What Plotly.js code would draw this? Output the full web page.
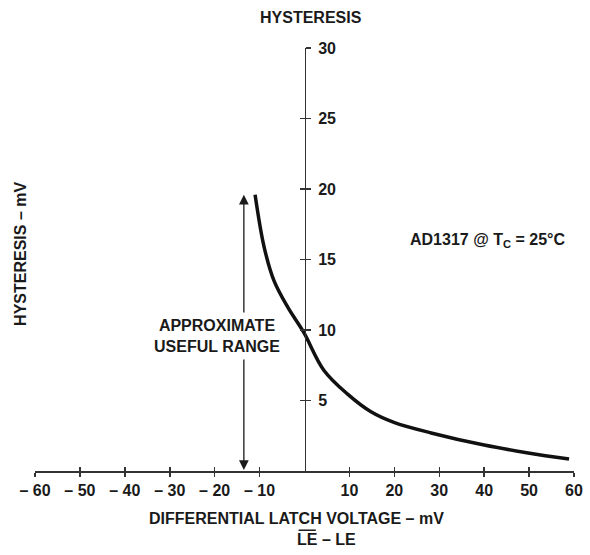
<!DOCTYPE html>
<html>
<head>
<meta charset="utf-8">
<script src="https://cdn.plot.ly/plotly-3.0.1.min.js"></script>
<style>
html,body{margin:0;padding:0;background:#ffffff;}
#chart{width:590px;height:555px;}
</style>
</head>
<body>
<div id="chart"></div>
<script>
// Curve: hysteresis (mV) vs differential latch voltage (mV)
const latchVoltage = [-11.0, -9.0, -6.8, -3.7, -0.2, 4.3, 9.6, 14.8, 19.9, 28.2, 40.0, 49.8, 58.9];
const hysteresis   = [19.6, 15.9, 13.5, 11.6, 9.85, 7.15, 5.45, 4.2, 3.45, 2.7, 1.84, 1.28, 0.85];

// Axis ticks
const xTickVals = [-60, -50, -40, -30, -20, -10, 10, 20, 30, 40, 50, 60];
const xTickText = xTickVals.map(v => v < 0 ? '\u2013 ' + Math.abs(v) : String(v));
const yTickVals = [5, 10, 15, 20, 25, 30];
const yTickText = yTickVals.map(String);
const xRange = [-60, 60];
const yRange = [0, 30];

// Useful range arrow
const usefulRangeX = -13.5;
const usefulRangeY = [0.07, 19.7];
const usefulRangeLabelPos = [-19.5, 9.57];

const FONT = 'Liberation Sans, Arial, Helvetica, sans-serif';
const INK = '#1a1a1a';
const AXIS = '#333333';

const traces = [
  {
    x: latchVoltage, y: hysteresis,
    type: 'scatter', mode: 'lines',
    line: {color: '#111111', width: 3.5, shape: 'spline', smoothing: 1},
    showlegend: false, hoverinfo: 'skip'
  },
  {
    x: [null], y: [null], xaxis: 'x2', yaxis: 'y2',
    type: 'scatter', mode: 'lines', showlegend: false, hoverinfo: 'skip'
  }
];

const tickFont = {family: FONT, size: 16, color: INK, weight: 700};
const textFont = {family: FONT, size: 16, color: INK, weight: 700};

const layout = {
  width: 590, height: 555,
  margin: {l: 35, r: 16, t: 48, b: 84, pad: 0},
  paper_bgcolor: '#ffffff', plot_bgcolor: 'rgba(0,0,0,0)',
  showlegend: false,
  xaxis: {
    range: xRange, showgrid: false, zeroline: false,
    showline: true, linecolor: AXIS, linewidth: 1.5,
    ticks: 'outside', ticklen: 4, tickwidth: 1.5, tickcolor: AXIS,
    tickmode: 'array', tickvals: xTickVals, ticktext: xTickText,
    tickfont: tickFont, anchor: 'y', fixedrange: true
  },
  xaxis2: {
    range: xRange, overlaying: 'x', anchor: 'y', side: 'bottom',
    showgrid: false, zeroline: false, showline: false,
    ticks: 'inside', ticklen: 4, tickwidth: 1.5, tickcolor: AXIS,
    tickmode: 'array', tickvals: xTickVals, showticklabels: false
  },
  yaxis: {
    range: yRange, showgrid: false, zeroline: false,
    showline: true, linecolor: AXIS, linewidth: 1.5,
    anchor: 'free', position: 0.5, side: 'right',
    ticks: 'outside', ticklen: 5, tickwidth: 1.5, tickcolor: AXIS,
    tickmode: 'array', tickvals: yTickVals, ticktext: yTickText,
    tickfont: tickFont, ticklabelstandoff: 4, fixedrange: true
  },
  yaxis2: {
    range: yRange, overlaying: 'y', anchor: 'free', position: 0.5, side: 'right',
    showgrid: false, zeroline: false, showline: false,
    ticks: 'inside', ticklen: 5, tickwidth: 1.5, tickcolor: AXIS,
    tickmode: 'array', tickvals: yTickVals, showticklabels: false
  },
  shapes: [
    {type: 'line', xref: 'paper', yref: 'paper', x0: 0.489, x1: 0.521, y0: -0.140, y1: -0.140,
     line: {color: INK, width: 1.5}}
  ],
  annotations: [
    {
      x: usefulRangeX, y: usefulRangeY[0], xref: 'x', yref: 'y',
      ax: usefulRangeX, ay: usefulRangeY[1], axref: 'x', ayref: 'y',
      text: '', showarrow: true, arrowside: 'end+start',
      arrowhead: 2, startarrowhead: 2, arrowsize: 1.5, startarrowsize: 1.5,
      arrowwidth: 1.3, arrowcolor: INK, standoff: 0, startstandoff: 0
    },
    {
      x: usefulRangeLabelPos[0], y: usefulRangeLabelPos[1], xref: 'x', yref: 'y',
      xanchor: 'center', yanchor: 'middle',
      text: 'APPROXIMATE<br>USEFUL RANGE', showarrow: false,
      font: textFont, bgcolor: '#ffffff', borderpad: 4, align: 'center'
    },
    {
      x: 0.512, y: 1.073, xref: 'paper', yref: 'paper', xanchor: 'center', yanchor: 'middle',
      text: 'HYSTERESIS', showarrow: false, font: textFont
    },
    {
      x: -0.028, y: 0.513, xref: 'paper', yref: 'paper', xanchor: 'center', yanchor: 'middle',
      text: 'HYSTERESIS \u2013 mV', showarrow: false, textangle: -90, font: textFont
    },
    {
      x: 0.486, y: -0.1125, xref: 'paper', yref: 'paper', xanchor: 'center', yanchor: 'middle',
      text: 'DIFFERENTIAL LATCH VOLTAGE \u2013 mV', showarrow: false, font: textFont
    },
    {
      x: 0.5415, y: -0.163, xref: 'paper', yref: 'paper', xanchor: 'center', yanchor: 'middle',
      text: 'LE \u2013 LE', showarrow: false, font: textFont
    },
    {
      x: 0.840, y: 0.546, xref: 'paper', yref: 'paper', xanchor: 'center', yanchor: 'middle',
      text: 'AD1317 @ T<sub>C</sub> = 25\u00b0C', showarrow: false, font: textFont
    }
  ]
};

Plotly.newPlot('chart', traces, layout, {displayModeBar: false, staticPlot: true});
</script>
</body>
</html>
